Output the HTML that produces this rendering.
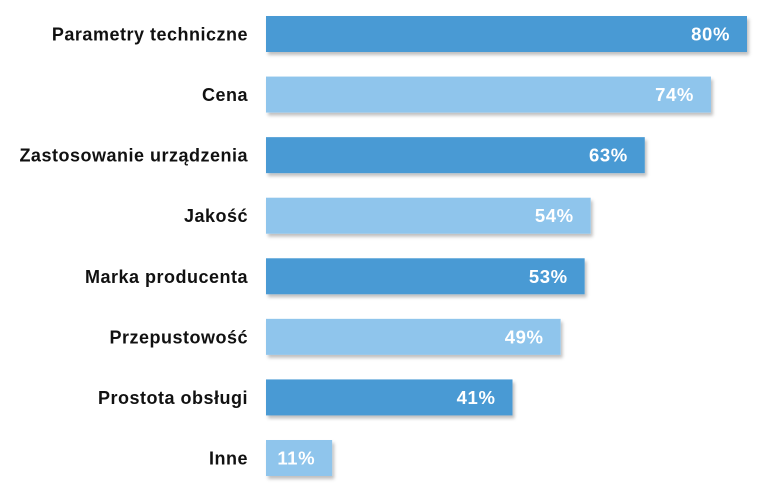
<!DOCTYPE html>
<html><head><meta charset="utf-8"><style>
body{margin:0;background:#fff;}
svg text{font-family:"Liberation Sans",sans-serif;font-weight:bold;}
</style></head><body>
<svg id="chart" width="763" height="498" xmlns="http://www.w3.org/2000/svg">
<defs><filter id="sh" x="-5%" y="-20%" width="115%" height="160%"><feDropShadow dx="2" dy="3" stdDeviation="1.5" flood-color="#000" flood-opacity="0.25"/></filter></defs>
<g id="bars"></g>
</svg>
<script>
const categories=["Parametry techniczne","Cena","Zastosowanie urządzenia","Jakość","Marka producenta","Przepustowość","Prostota obsługi","Inne"];
const values=[80,74,63,54,53,49,41,11];
const x0=266, scale=6.0125, y0=16, step=60.57, bh=36;
const xs=v=>v*scale, ys=i=>y0+i*step;
const g=document.getElementById('bars');
const ns='http://www.w3.org/2000/svg';
categories.forEach((c,i)=>{
  const r=document.createElementNS(ns,'rect');
  
  
  r.setAttribute('x',x0);r.setAttribute('y',ys(i));
  r.setAttribute('width',xs(values[i]));r.setAttribute('height',bh);
  r.setAttribute('fill',i%2?'#8fc5ec':'#4a9ad4');r.setAttribute('filter','url(#sh)');
  g.appendChild(r);
  const v=document.createElementNS(ns,'text');
  
  
  v.setAttribute('x',x0+xs(values[i])-17);v.setAttribute('y',ys(i)+bh/2+6.5);
  v.setAttribute('text-anchor','end');v.setAttribute('fill','#fff');v.setAttribute('font-size','18.5');
  v.setAttribute('letter-spacing','0.6');
  v.textContent=values[i]+'%';g.appendChild(v);
  const t=document.createElementNS(ns,'text');
  
  
  t.setAttribute('x',248);t.setAttribute('y',ys(i)+bh/2+6.5);
  t.setAttribute('text-anchor','end');t.setAttribute('fill','#111');t.setAttribute('font-size','18');
  t.setAttribute('letter-spacing','0.5');
  t.textContent=c;g.appendChild(t);
});
</script>
</body></html>
